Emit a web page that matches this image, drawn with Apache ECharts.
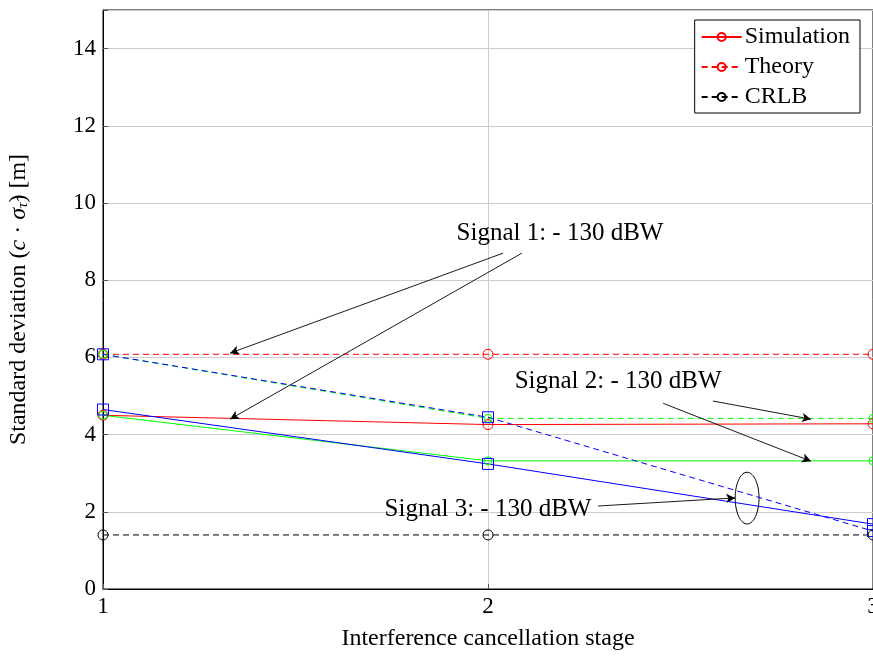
<!DOCTYPE html>
<html><head><meta charset="utf-8">
<script src="https://cdn.jsdelivr.net/npm/echarts@6/dist/echarts.min.js"></script>
<style>html,body{margin:0;padding:0;background:#fff;overflow:hidden}#c{width:873px;height:657px}</style>
</head><body><div id="c"></div>
<script>
const stages = [1, 2, 3];
const sig1Sim = [4.50, 4.26, 4.28];
const sig1Theory = [6.08, 6.08, 6.08];
const sig2Sim = [4.50, 3.32, 3.32];
const sig2Theory = [6.08, 4.42, 4.42];
const sig3Sim = [4.65, 3.24, 1.68];
const sig3Theory = [6.08, 4.45, 1.50];
const crlb = [1.40, 1.40, 1.40];
const yTicks = [0, 2, 4, 6, 8, 10, 12, 14];
const xTicks = [1, 2, 3];
// annotations: [x, y, text]
const annoText = [
  [2.187, 9.21, 'Signal 1: - 130 dBW'],
  [2.338, 5.38, 'Signal 2: - 130 dBW'],
  [2.000, 2.07, 'Signal 3: - 130 dBW']
];
// arrows: [x0, y0, x1, y1]
const arrows = [
  [2.039, 8.70, 1.330, 6.11],
  [2.088, 8.70, 1.330, 4.40],
  [2.584, 4.87, 2.839, 4.40],
  [2.455, 4.81, 2.839, 3.31],
  [2.286, 2.15, 2.642, 2.36]
];
const ellipseCenter = [2.673, 2.355];
const ellipseRadii = [0.031, 0.67];

const FONT = 'Liberation Serif';
const zip = a => stages.map((s, i) => [s, a[i]]);

function mk(name, data, color, dashed, symbol, size) {
  return {
    name, type: 'line', data: zip(data),
    symbol, symbolSize: size,
    lineStyle: { color, width: 1, type: dashed ? [6, 4] : 'solid' },
    itemStyle: { color: 'rgba(0,0,0,0)', borderColor: color, borderWidth: 1 },
    emphasis: { disabled: true }, animation: false, clip: false
  };
}

const chart = echarts.init(document.getElementById('c'));
const series = [
  mk('Simulation', sig1Sim, '#ff0000', false, 'circle', 10),
  mk('Theory', sig1Theory, '#ff0000', true, 'circle', 10),
  mk('Signal 2 Simulation', sig2Sim, '#00ff00', false, 'circle', 8),
  mk('Signal 2 Theory', sig2Theory, '#00ff00', true, 'circle', 8),
  mk('Signal 3 Simulation', sig3Sim, '#0000ff', false, 'rect', 11),
  mk('Signal 3 Theory', sig3Theory, '#0000ff', true, 'rect', 11),
  mk('CRLB', crlb, '#000000', true, 'circle', 10),
  {
    name: 'arrows', type: 'line', data: [], silent: true, animation: false,
    markLine: {
      silent: true, animation: false, symbol: ['none', 'arrow'], symbolSize: [7, 9],
      lineStyle: { color: '#000', width: 0.9, type: 'solid' },
      label: { show: false },
      data: arrows.map(a => [{ coord: [a[0], a[1]] }, { coord: [a[2], a[3]] }])
    }
  },
  {
    name: 'annotations', type: 'scatter', symbolSize: 0, silent: true, animation: false,
    itemStyle: { opacity: 1 },
    data: annoText.map(a => ({ value: [a[0], a[1]], name: a[2] })),
    label: { show: true, position: 'inside', formatter: p => p.name,
      fontFamily: FONT, fontSize: 25, color: '#000', textBorderWidth: 0, opacity: 1 }
  },
  {
    name: 'ellipse', type: 'custom', silent: true, animation: false,
    data: [ellipseCenter],
    renderItem: (params, api) => {
      const pts = [];
      for (let k = 0; k < 72; k++) {
        const t = k / 72 * Math.PI * 2;
        pts.push(api.coord([ellipseCenter[0] + ellipseRadii[0] * Math.cos(t),
                            ellipseCenter[1] + ellipseRadii[1] * Math.sin(t)]));
      }
      return { type: 'polygon', shape: { points: pts },
        style: { fill: 'none', stroke: '#000', lineWidth: 1 } };
    }
  }
];

chart.setOption({
  animation: false,
  backgroundColor: '#fff',
  grid: { left: 103, right: 0, top: 10, bottom: 68, show: true, borderColor: '#000', borderWidth: 1,
    containLabel: false, outerBoundsMode: 'none' },
  legend: {
    data: ['Simulation', 'Theory', 'CRLB'],
    orient: 'vertical', right: 13, top: 20,
    backgroundColor: '#fff', borderColor: '#000', borderWidth: 1,
    padding: [5, 10, 4, 6], itemGap: 6, itemWidth: 40, itemHeight: 10,
    textStyle: { fontFamily: FONT, fontSize: 24, color: '#000', padding: [0, 0, 0, -2] },
    selectedMode: false
  },
  xAxis: {
    type: 'value', min: xTicks[0], max: xTicks[xTicks.length - 1], interval: 1,
    name: 'Interference cancellation stage', nameLocation: 'middle', nameGap: 38,
    nameTextStyle: { fontFamily: FONT, fontSize: 24, color: '#000' },
    axisLine: { show: true, lineStyle: { color: '#000', width: 1 } },
    axisTick: { show: true, inside: true, length: 5, lineStyle: { color: '#555' } },
    axisLabel: { fontFamily: FONT, fontSize: 23, color: '#000', margin: 6 },
    splitLine: { show: true, lineStyle: { color: '#cccccc', width: 1 } }
  },
  yAxis: {
    type: 'value', min: 0, max: 15, interval: 2,
    name: '{t|Standard deviation (}{i|c}{t| · }{i|σ}{s|τ̂}{t|) [m]}',
    nameLocation: 'middle', nameGap: 72,
    nameTextStyle: { fontFamily: FONT, fontSize: 24, color: '#000',
      rich: {
        t: { fontFamily: FONT, fontSize: 24, color: '#000' },
        i: { fontFamily: FONT, fontSize: 24, fontStyle: 'italic', color: '#000' },
        s: { fontFamily: FONT, fontSize: 15, fontStyle: 'italic', color: '#000', padding: [8, 0, 0, 0] }
      } },
    axisLine: { show: true, lineStyle: { color: '#000', width: 1 } },
    axisTick: { show: true, inside: true, length: 5, lineStyle: { color: '#555' } },
    axisLabel: { fontFamily: FONT, fontSize: 23, color: '#000', margin: 7,
      formatter: v => yTicks.indexOf(v) >= 0 ? String(v) : '' },
    splitLine: { show: true, lineStyle: { color: '#cccccc', width: 1 } }
  },
  series
});
</script></body></html>
